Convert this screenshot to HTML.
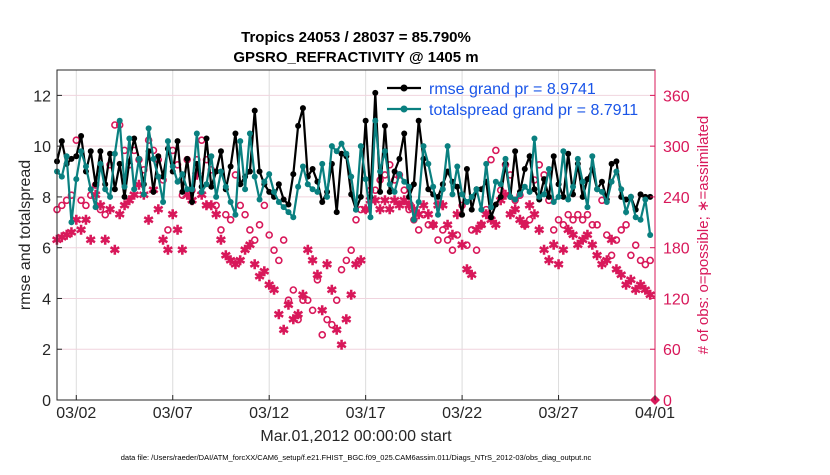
<!DOCTYPE html>
<html><head><meta charset="utf-8"><style>
body{margin:0;background:#fff;font-family:"Liberation Sans",sans-serif}
svg text{font-family:"Liberation Sans",sans-serif}
</style></head><body>
<svg id="c" width="830" height="470" xmlns="http://www.w3.org/2000/svg"></svg>
<script>
const rmse=[9.4,10.2,9.3,9.5, 9.6,10.4,9.0,9.8, 8.5,9.8,8.5,9.7, 8.3,9.3,8.0,9.4, 10.3,9.5,8.5,9.8, 8.2,9.6,8.8,9.9, 9.0,10.2,8.2,9.5, 7.8,9.3,8.4,10.3, 8.4,9.0,9.8,8.3, 9.2,10.5,8.5,8.8, 9.0,11.4,9.0,8.5, 8.2,8.0,8.5,7.9, 7.7,8.9,10.8,11.5, 8.8,9.1,8.6,7.8, 8.2,9.3,7.4,9.7, 9.6,8.1,7.5,8.0, 11.0,8.0,12.1,8.2, 10.8,8.2,9.0,9.5, 10.5,8.0,8.5,11.0, 9.5,8.3,8.1,8.0, 8.5,9.0,8.6,8.4, 7.3,9.1,7.5,8.3, 8.3,8.6,7.2,7.7, 8.0,9.3,8.0,9.8, 8.2,9.1,9.6,8.3, 7.9,8.7,8.0,9.6, 8.5,8.0,9.7,8.1, 9.3,8.0,8.7,9.1, 8.3,8.6,7.9,9.3, 9.4,8.0,7.9,8.0, 7.5,8.1,8.0,8.0];
const spread=[9.0,8.8,9.6,7.0, 8.7,9.8,9.2,8.3, 7.6,9.3,8.3,8.0, 9.7,11.0,8.4,10.3, 8.3,9.5,8.1,10.7, 9.5,8.8,7.8,10.2, 9.2,8.6,8.9,8.3, 8.3,10.5,8.2,8.5, 9.6,8.0,9.0,8.4, 7.8,7.3,10.2,8.3, 10.5,8.8,7.9,8.6, 8.9,8.2,7.8,7.6, 7.4,7.2,8.4,9.2, 8.5,8.3,8.2,9.3, 8.0,10.0,9.8,10.1, 9.7,8.8,7.5,10.0, 8.7,7.2,11.0,9.0, 9.8,8.5,8.2,8.9, 8.6,8.4,7.1,7.8, 10.0,9.3,8.4,7.3, 8.3,10.0,8.1,9.2, 8.1,7.8,8.0,8.3, 7.5,9.3,7.6,8.6, 8.5,9.5,8.0,7.9, 8.1,8.4,8.2,10.3, 8.0,8.1,9.1,7.8, 8.0,9.8,7.9,8.4, 9.5,8.6,7.6,9.6, 8.3,8.2,7.8,8.6, 9.0,8.3,7.4,8.0, 7.2,7.1,7.9,6.5];
const possible=[225,230,236,242, 307,236,230,242, 254,225,219,278, 325,325,295,278, 295,284,272,307, 295,284,260,201, 295,278,242,284, 248,284,307,284, 272,230,201,219, 213,266,230,219, 201,189,207,230, 195,177,165,189, 118,130,95,118, 118,106,142,77, 95,89,118,154, 165,177,213,225, 225,248,248,260, 266,278,260,266, 248,225,213,201, 219,207,207,189, 201,189,177,195, 230,183,201,177, 207,225,284,295, 248,278,266,236, 242,207,213,260, 278,266,236,201, 213,207,219,213, 219,213,219,207, 207,236,195,171, 189,201,207,171, 183,165,160,165];
const assim=[189,192,195,198, 213,201,213,189, 242,230,189,225, 177,219,230,236, 242,254,242,213, 248,225,189,177, 219,201,177,242, 236,266,242,230, 230,219,189,171, 165,160,165,177, 183,160,146,152, 136,130,101,83, 112,95,101,124, 177,165,148,106, 160,130,83,65, 95,124,160,165, 225,236,236,225, 236,225,236,230, 236,230,225,219, 230,219,207,230, 230,207,195,219, 183,154,148,201, 207,219,213,207, 236,242,219,225, 213,207,230,219, 201,177,165,183, 160,177,201,195, 183,189,195,183, 171,160,165,189, 154,148,136,142, 130,136,130,124];
const xTicks=["03/02","03/07","03/12","03/17","03/22","03/27","04/01"];
const xTickDays=[1,6,11,16,21,26,31];
const yTicks=[0,2,4,6,8,10,12];
const rTicks=[0,60,120,180,240,300,360];

const L=57,R=655,T=70,B=400;
const X=d=>L+(d)/31*(R-L);
const Y=v=>B-v/13*(B-T);
const YR=n=>B-n/390*(B-T);
const svg=document.getElementById('c');
const NS='http://www.w3.org/2000/svg';
function mk(tag,at,parent){const e=document.createElementNS(NS,tag);for(const k in at)e.setAttribute(k,at[k]);(parent||svg).appendChild(e);return e;}
function tx(s,at,parent){const e=mk('text',at,parent);e.textContent=s;return e;}

mk('rect',{x:L,y:T,width:R-L,height:B-T,fill:'#fff'});
xTickDays.forEach(d=>{const g=mk('line',{x1:X(d),x2:X(d),y1:T,y2:B,stroke:'#dcdcdc','stroke-width':1});

});
rTicks.forEach(n=>{const g=mk('line',{x1:L,x2:R,y1:YR(n),y2:YR(n),stroke:'#f0d4de','stroke-width':1});

});

const dt=0.25;
function pts(arr,f){return arr.map((v,i)=>[X(i*dt),f(v)]);}
const ga=mk('g',{});
pts(assim,YR).forEach(([x,y])=>{const s=mk('text',{x:x,y:y+4.5,'text-anchor':'middle','font-size':13,fill:'#d8185a','font-weight':'bold'},ga);s.textContent='✱';

});
const gp=mk('g',{});
pts(possible,YR).forEach(([x,y])=>{const c=mk('circle',{cx:x,cy:y,r:3,fill:'none',stroke:'#d8185a','stroke-width':1.6},gp);

});
function series(arr,col,name){const p=pts(arr,Y);const g=mk('g',{});
mk('polyline',{points:p.map(q=>q.join(',')).join(' '),fill:'none',stroke:col,'stroke-width':2.2},g);
p.forEach(([x,y])=>{const c=mk('circle',{cx:x,cy:y,r:3,fill:col},g);

});}
series(rmse,'#000','rmse-series');
series(spread,'#0a8080','totalspread-series');
mk('polygon',{points:`${R},${B-5} ${R+5},${B} ${R},${B+5} ${R-5},${B}`,fill:'#d8185a'});

mk('rect',{x:L,y:T,width:R-L,height:B-T,fill:'none',stroke:'#262626','stroke-width':1});
mk('line',{x1:R,x2:R,y1:T,y2:B,stroke:'#d8185a','stroke-width':1});
yTicks.forEach(v=>{mk('line',{x1:L,x2:L+5,y1:Y(v),y2:Y(v),stroke:'#262626'});
const t=tx(String(v),{x:L-6,y:Y(v)+6,'text-anchor':'end','font-size':16,fill:'#262626'});
});
rTicks.forEach(v=>{mk('line',{x1:R-5,x2:R,y1:YR(v),y2:YR(v),stroke:'#d8185a'});
const t=tx(String(v),{x:R+8,y:YR(v)+6,'font-size':16,fill:'#d8185a'});
});
xTickDays.forEach((d,i)=>{mk('line',{x1:X(d),x2:X(d),y1:B,y2:B-5,stroke:'#262626'});
const t=tx(xTicks[i],{x:X(d),y:B+18,'text-anchor':'middle','font-size':16,fill:'#262626'});
});
</script>
<script>
(function(){const svg=document.getElementById('c');const NS='http://www.w3.org/2000/svg';
function tx(s,at,name){const e=document.createElementNS(NS,'text');for(const k in at)e.setAttribute(k,at[k]);e.textContent=s;svg.appendChild(e);

return e;}
tx('Tropics 24053 / 28037 = 85.790%',{x:356,y:42,'text-anchor':'middle','font-size':15,'font-weight':'bold',fill:'#000'},'title-line-1');
tx('GPSRO_REFRACTIVITY @ 1405 m',{x:356,y:62,'text-anchor':'middle','font-size':15,'font-weight':'bold',fill:'#000'},'title-line-2');
tx('Mar.01,2012 00:00:00 start',{x:356,y:441,'text-anchor':'middle','font-size':16,fill:'#262626'},'x-axis-title');
tx('rmse and totalspread',{x:0,y:0,'text-anchor':'middle','font-size':16,fill:'#262626',transform:'translate(30,235) rotate(-90)'},'y-axis-title');
tx('# of obs: o=possible; \u2217=assimilated',{x:0,y:0,'text-anchor':'middle','font-size':15,fill:'#d8185a',transform:'translate(708,235) rotate(-90)'},'right-axis-title');
tx('data file: /Users/raeder/DAI/ATM_forcXX/CAM6_setup/f.e21.FHIST_BGC.f09_025.CAM6assim.011/Diags_NTrS_2012-03/obs_diag_output.nc',{x:356,y:460,'text-anchor':'middle','font-size':7.5,fill:'#000'},'data-file-note');
const g=document.createElementNS(NS,'g');svg.appendChild(g);


g.innerHTML='<line x1="387" x2="421" y1="88" y2="88" stroke="#000" stroke-width="2.2"/><circle cx="404" cy="88" r="3.5"/><line x1="387" x2="421" y1="109" y2="109" stroke="#0a8080" stroke-width="2.2"/><circle cx="404" cy="109" r="3.5" fill="#0a8080"/>';
tx('rmse grand pr = 8.9741',{x:429,y:94,'font-size':16,fill:'#1a55e8'},'legend-rmse');
tx('totalspread grand pr = 8.7911',{x:429,y:115,'font-size':16,fill:'#1a55e8'},'legend-totalspread');
})();
</script>
</body></html>
